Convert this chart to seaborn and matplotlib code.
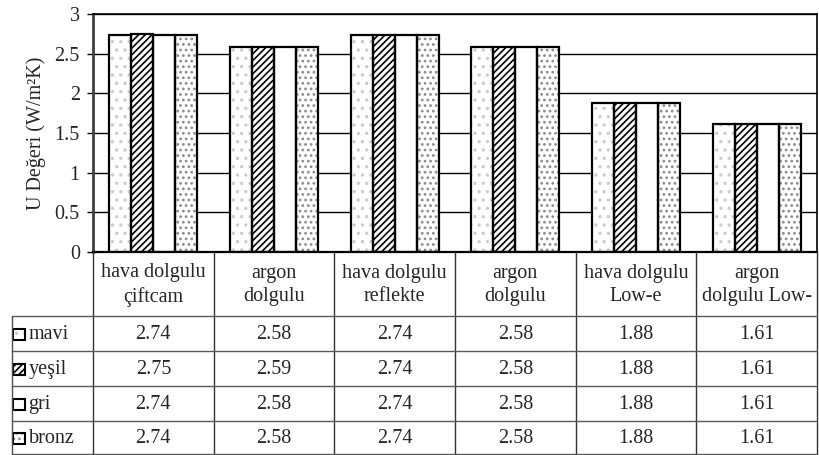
import pandas as pd
import matplotlib
matplotlib.use("Agg")
import matplotlib.pyplot as plt
import matplotlib.transforms as mtransforms
from matplotlib.lines import Line2D
from matplotlib.patches import Rectangle
from matplotlib.ticker import FuncFormatter
import seaborn as sns

# ------------------------------------------------------------------
# data
# ------------------------------------------------------------------
kategoriler = ["hava dolgulu\nçiftcam", "argon\ndolgulu", "hava dolgulu\nreflekte",
               "argon\ndolgulu", "hava dolgulu\nLow-e", "argon\ndolgulu Low-"]
seriler = ["mavi", "yeşil", "gri", "bronz"]
mavi = [2.74, 2.58, 2.74, 2.58, 1.88, 1.61]
yesil = [2.75, 2.59, 2.74, 2.58, 1.88, 1.61]
gri = [2.74, 2.58, 2.74, 2.58, 1.88, 1.61]
bronz = [2.74, 2.58, 2.74, 2.58, 1.88, 1.61]
y_ticks = [0, 0.5, 1, 1.5, 2, 2.5, 3]

degerler = {"mavi": mavi, "yeşil": yesil, "gri": gri, "bronz": bronz}
rows = []
for s in seriler:
    for i, v in enumerate(degerler[s]):
        rows.append({"kat": i, "seri": s, "deger": v})
df = pd.DataFrame(rows)

# hatch style per series: (hatch, hatch colour)
desen = {"mavi": ("..", "0.8"), "yeşil": ("/////", "black"),
         "gri": ("", "black"), "bronz": ("...", "0.55")}

# ------------------------------------------------------------------
# figure
# ------------------------------------------------------------------
sns.set_theme(style="white")
plt.rcParams["font.family"] = ["Liberation Serif", "DejaVu Serif"]
plt.rcParams["hatch.linewidth"] = 1.2
FS = 14.5

W, H = 819, 455
fig = plt.figure(figsize=(W / 100, H / 100), dpi=100)
fx = lambda px: px / W
fy = lambda py: 1 - py / H
ax = fig.add_axes([fx(93), fy(252), fx(817) - fx(93), fy(14) - fy(252)])

sns.barplot(data=df, x="kat", y="deger", hue="seri", hue_order=seriler,
            palette={s: "white" for s in seriler}, saturation=1, width=0.73,
            gap=0, edgecolor="black", linewidth=1.5, legend=False, ax=ax)

# hatch in its own colour, black outline drawn on top
for cont, s in zip(ax.containers, seriler):
    h, hc = desen[s]
    for p in cont.patches:
        p.set_hatch(h)
        p.set_edgecolor(hc)
        p.set_linewidth(0)
        ax.add_patch(Rectangle(p.get_xy(), p.get_width(), p.get_height(),
                               fill=False, edgecolor="black", linewidth=1.6, zorder=3))

ax.set_xlim(-0.5, len(kategoriler) - 0.5)
ax.set_ylim(0, 3)
ax.set_yticks(y_ticks)
ax.yaxis.set_major_formatter(FuncFormatter(lambda v, _: f"{v:g}"))
ax.tick_params(axis="y", left=True, length=4.5, width=1, color="black",
               pad=5, labelsize=FS)
ax.tick_params(axis="x", bottom=False, labelbottom=False)
ax.set_xlabel("")
ax.set_ylabel("U Değeri (W/m²K)", fontsize=FS, labelpad=6)
ax.yaxis.grid(True, color="black", linewidth=1)
ax.set_axisbelow(True)
for sp in ax.spines.values():
    sp.set_color("black")
    sp.set_linewidth(1.2)
ax.spines["left"].set_color("0.25")
ax.spines["left"].set_linewidth(2)
ax.spines["bottom"].set_linewidth(1.6)

# ------------------------------------------------------------------
# data table under the axis
# ------------------------------------------------------------------
trans = mtransforms.blended_transform_factory(ax.transData, fig.transFigure)
row_edges = [316, 351, 386, 421, 454]

def hat(x0, x1, y0, y1, tr=fig.transFigure, c="0.3", lw=1):
    fig.add_artist(Line2D([x0, x1], [y0, y1], transform=tr, color=c, lw=lw))

# vertical column lines
for k in range(len(kategoriler) + 1):
    hat(k - 0.5, k - 0.5, fy(252), fy(455), tr=trans, c="0.2")
# horizontal row lines
for r in row_edges:
    hat(fx(12), fx(817), fy(r), fy(r), c="0.35")
hat(fx(12), fx(12), fy(316), fy(455), c="0.3")

# header texts
for i, k in enumerate(kategoriler):
    ax.text(i, fy(285), k, transform=trans, ha="center", va="center",
            fontsize=FS, linespacing=1.35)

# rows
for j, s in enumerate(seriler):
    yc = (row_edges[j] + row_edges[j + 1]) / 2
    h, hc = desen[s]
    box = ((fx(13), fy(yc + 6.5)), fx(11.5), fy(0) - fy(11.5))
    fig.add_artist(Rectangle(*box, transform=fig.transFigure, facecolor="white",
                             edgecolor=hc, hatch=h, linewidth=0))
    fig.add_artist(Rectangle(*box, transform=fig.transFigure, fill=False,
                             edgecolor="black", linewidth=1.5))
    fig.text(fx(28.5), fy(yc + 1), s, ha="left", va="center", fontsize=FS)
    for i, v in enumerate(degerler[s]):
        ax.text(i, fy(yc + 1), f"{v:.2f}", transform=trans, ha="center",
                va="center", fontsize=FS)

fig.savefig("out.png", dpi=100)
